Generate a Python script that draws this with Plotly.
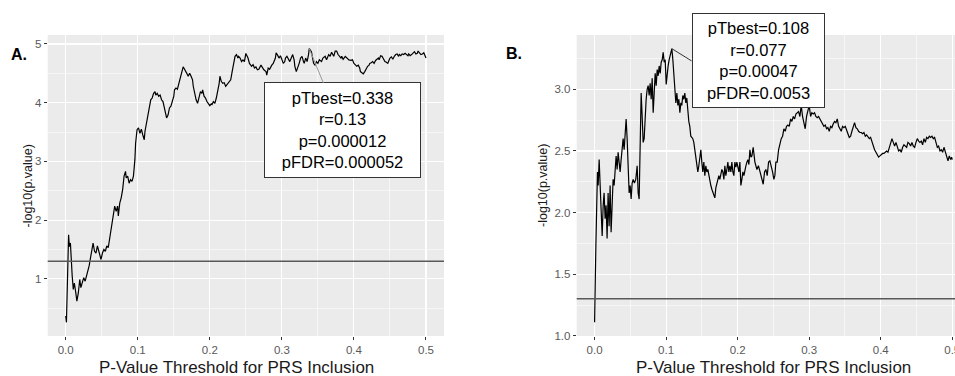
import numpy as np
import plotly.graph_objects as go

# ---------------- data ----------------
A_x = [0.000, 0.001, 0.004, 0.005, 0.0065, 0.0075, 0.009, 0.0105, 0.012, 0.014,
       0.0155, 0.0175, 0.0195, 0.021, 0.023, 0.025, 0.027, 0.029, 0.031, 0.0325,
       0.034, 0.036, 0.038, 0.040, 0.042, 0.044, 0.0455, 0.047, 0.049, 0.051,
       0.053, 0.055, 0.057, 0.059, 0.060, 0.062, 0.064, 0.066, 0.068, 0.070,
       0.072, 0.073, 0.075, 0.077, 0.079, 0.081, 0.083, 0.084, 0.086, 0.088,
       0.090, 0.092, 0.094, 0.096, 0.097, 0.099, 0.101, 0.103, 0.105, 0.107,
       0.109, 0.110, 0.112, 0.114, 0.116, 0.118, 0.120, 0.122, 0.124, 0.125,
       0.127, 0.129, 0.131, 0.133, 0.135, 0.137, 0.138, 0.140, 0.142, 0.144,
       0.146, 0.148, 0.150, 0.151, 0.153, 0.155, 0.157, 0.159, 0.161, 0.163,
       0.164, 0.166, 0.168, 0.170, 0.172, 0.174, 0.176, 0.177, 0.179, 0.181,
       0.183, 0.185, 0.187, 0.189, 0.190, 0.192, 0.194, 0.196, 0.198, 0.200,
       0.202, 0.203, 0.205, 0.207, 0.209, 0.211, 0.213, 0.214, 0.216, 0.218,
       0.220, 0.222, 0.224, 0.226, 0.227, 0.229, 0.231, 0.233, 0.235, 0.237,
       0.239, 0.240, 0.242, 0.244, 0.246, 0.248, 0.250, 0.253, 0.255, 0.258,
       0.260, 0.262, 0.264, 0.266, 0.268, 0.271, 0.273, 0.275, 0.278, 0.279,
       0.281, 0.283, 0.286, 0.288, 0.291, 0.292, 0.294, 0.296, 0.298, 0.300,
       0.302, 0.304, 0.305, 0.307, 0.309, 0.311, 0.313, 0.315, 0.317, 0.318,
       0.320, 0.322, 0.324, 0.326, 0.328, 0.330, 0.331, 0.333, 0.335, 0.337,
       0.338, 0.341, 0.343, 0.344, 0.346, 0.348, 0.350, 0.352, 0.355, 0.357,
       0.360, 0.362, 0.365, 0.367, 0.369, 0.370, 0.372, 0.374, 0.376, 0.378,
       0.380, 0.382, 0.383, 0.385, 0.388, 0.391, 0.393, 0.396, 0.398, 0.400,
       0.402, 0.404, 0.406, 0.408, 0.409, 0.411, 0.413, 0.415, 0.417, 0.419,
       0.421, 0.422, 0.424, 0.426, 0.428, 0.430, 0.432, 0.434, 0.435, 0.437,
       0.439, 0.441, 0.443, 0.445, 0.447, 0.449, 0.450, 0.452, 0.454, 0.456,
       0.458, 0.460, 0.462, 0.463, 0.465, 0.467, 0.469, 0.471, 0.473, 0.475,
       0.476, 0.478, 0.480, 0.482, 0.484, 0.486, 0.488, 0.489, 0.491, 0.493,
       0.495, 0.497, 0.499, 0.500]
A_y = [0.37, 0.26, 1.75, 1.55, 1.61, 1.33, 1.05, 0.82, 0.93, 0.76,
       0.62, 0.76, 0.99, 0.85, 0.93, 1.02, 0.96, 1.05, 1.16, 1.22,
       1.33, 1.50, 1.61, 1.47, 1.44, 1.56, 1.50, 1.44, 1.33, 1.44,
       1.50, 1.47, 1.56, 1.53, 1.61, 1.75, 1.95, 2.12, 2.24, 2.15,
       2.24, 2.07, 2.29, 2.38, 2.52, 2.75, 2.83, 2.72, 2.75, 2.63,
       2.69, 2.66, 2.75, 3.03, 3.31, 3.54, 3.57, 3.48, 3.55, 3.45,
       3.37, 3.51, 3.65, 3.74, 3.88, 4.05, 4.08, 4.16, 4.19, 4.13,
       4.16, 4.11, 4.13, 4.05, 4.02, 3.91, 3.82, 3.74, 3.79, 3.91,
       3.94, 4.02, 4.11, 4.22, 4.25, 4.23, 4.33, 4.45, 4.53, 4.61,
       4.59, 4.53, 4.50, 4.45, 4.50, 4.45, 4.39, 4.28, 4.16, 4.05,
       3.99, 4.08, 4.19, 4.16, 4.22, 4.11, 4.08, 4.02, 3.99, 3.95,
       3.98, 3.97, 4.02, 3.99, 4.08, 4.19, 4.33, 4.45, 4.36, 4.33,
       4.34, 4.28, 4.31, 4.33, 4.36, 4.39, 4.53, 4.70, 4.79, 4.82,
       4.76, 4.79, 4.76, 4.70, 4.73, 4.70, 4.84, 4.76, 4.67, 4.62,
       4.65, 4.59, 4.61, 4.56, 4.57, 4.64, 4.59, 4.56, 4.53, 4.47,
       4.59, 4.57, 4.64, 4.67, 4.76, 4.85, 4.81, 4.76, 4.80, 4.73,
       4.67, 4.70, 4.76, 4.79, 4.73, 4.70, 4.76, 4.82, 4.73, 4.62,
       4.53, 4.59, 4.67, 4.76, 4.79, 4.70, 4.67, 4.76, 4.70, 4.82,
       4.92, 4.87, 4.76, 4.67, 4.64, 4.70, 4.67, 4.73, 4.70, 4.76,
       4.79, 4.73, 4.82, 4.79, 4.86, 4.84, 4.79, 4.88, 4.88, 4.82,
       4.79, 4.76, 4.79, 4.74, 4.79, 4.76, 4.73, 4.72, 4.73, 4.67,
       4.64, 4.62, 4.64, 4.59, 4.53, 4.51, 4.49, 4.53, 4.59, 4.62,
       4.64, 4.67, 4.68, 4.70, 4.67, 4.72, 4.74, 4.76, 4.73, 4.80,
       4.79, 4.73, 4.70, 4.69, 4.67, 4.73, 4.76, 4.78, 4.74, 4.79,
       4.82, 4.83, 4.79, 4.82, 4.80, 4.83, 4.82, 4.84, 4.82, 4.80,
       4.83, 4.80, 4.82, 4.84, 4.87, 4.83, 4.84, 4.88, 4.85, 4.82,
       4.83, 4.85, 4.79, 4.76]

B_x = [0.000, 0.0008, 0.0018, 0.003, 0.004, 0.005, 0.0064, 0.0078, 0.0092, 0.0106,
       0.012, 0.0133, 0.0147, 0.0161, 0.0175, 0.0189, 0.0203, 0.0217, 0.0231, 0.0245,
       0.0259, 0.0273, 0.0287, 0.0301, 0.0315, 0.0329, 0.0343, 0.0357, 0.0371, 0.0385,
       0.0399, 0.0413, 0.0427, 0.0441, 0.0455, 0.0469, 0.0483, 0.0497, 0.0511, 0.0525,
       0.0539, 0.0557, 0.0576, 0.0595, 0.0609, 0.0623, 0.0637, 0.0651, 0.0665, 0.0679,
       0.0693, 0.0707, 0.0721, 0.0735, 0.0749, 0.0763, 0.0777, 0.0791, 0.0805, 0.0819,
       0.0833, 0.0847, 0.0861, 0.0875, 0.0889, 0.0903, 0.0917, 0.0931, 0.0945, 0.0959,
       0.0973, 0.0987, 0.1001, 0.1014, 0.1028, 0.1042, 0.1056, 0.1080, 0.1094, 0.1108,
       0.1122, 0.1136, 0.1150, 0.1164, 0.1178, 0.1192, 0.1206, 0.1219, 0.1233, 0.1247,
       0.1261, 0.1275, 0.1289, 0.1303, 0.1317, 0.1331, 0.1345, 0.1359, 0.1373, 0.1387,
       0.1401, 0.1415, 0.1429, 0.1443, 0.1457, 0.1471, 0.1485, 0.1499, 0.1513, 0.1527,
       0.1541, 0.1555, 0.1569, 0.1583, 0.1597, 0.1611, 0.1625, 0.1639, 0.1653, 0.1667,
       0.1681, 0.1695, 0.1709, 0.1723, 0.1737, 0.1751, 0.1765, 0.1779, 0.1793, 0.1807,
       0.1821, 0.1835, 0.1849, 0.1863, 0.1877, 0.1891, 0.1905, 0.1919, 0.1933, 0.1947,
       0.1961, 0.1975, 0.1989, 0.2003, 0.2017, 0.2031, 0.2045, 0.2059, 0.2073, 0.2087,
       0.2101, 0.2115, 0.2129, 0.2143, 0.2157, 0.2171, 0.2185, 0.2199, 0.2217, 0.2241,
       0.2269, 0.2290, 0.2313, 0.2336, 0.2357, 0.2376, 0.2394, 0.2413, 0.2432, 0.2450,
       0.2469, 0.2488, 0.2506, 0.2520, 0.2534, 0.2553, 0.2572, 0.2590, 0.2609, 0.2628,
       0.2646, 0.2665, 0.2683, 0.2702, 0.2721, 0.2740, 0.2758, 0.2777, 0.2796, 0.2814,
       0.2833, 0.2851, 0.2870, 0.2888, 0.2907, 0.2926, 0.2944, 0.2963, 0.2982, 0.3000,
       0.3019, 0.3037, 0.3056, 0.3075, 0.3093, 0.3112, 0.3131, 0.3149, 0.3168, 0.3187,
       0.3205, 0.3224, 0.3243, 0.3261, 0.3280, 0.3299, 0.3317, 0.3336, 0.3355, 0.3373,
       0.3392, 0.3411, 0.3429, 0.3448, 0.3466, 0.3485, 0.3504, 0.3523, 0.3541, 0.3560,
       0.3579, 0.3597, 0.3616, 0.3634, 0.3653, 0.3672, 0.3690, 0.3709, 0.3728, 0.3746,
       0.3765, 0.3784, 0.3802, 0.3821, 0.3840, 0.3858, 0.3877, 0.3896, 0.3914, 0.3933,
       0.3952, 0.3970, 0.3989, 0.4007, 0.4026, 0.4045, 0.4063, 0.4082, 0.4101, 0.4119,
       0.4138, 0.4157, 0.4175, 0.4194, 0.4213, 0.4231, 0.4250, 0.4269, 0.4287, 0.4306,
       0.4325, 0.4343, 0.4362, 0.4380, 0.4399, 0.4418, 0.4436, 0.4455, 0.4474, 0.4492,
       0.4511, 0.4530, 0.4548, 0.4567, 0.4585, 0.4604, 0.4623, 0.4641, 0.4660, 0.4679,
       0.4697, 0.4716, 0.4735, 0.4753, 0.4772, 0.4791, 0.4809, 0.4828, 0.4847, 0.4865,
       0.4884, 0.4902, 0.4921, 0.4940, 0.4958, 0.4977, 0.4990, 0.5000]
B_y = [1.11, 1.70, 1.73, 2.06, 2.33, 2.22, 2.43, 2.22, 1.97, 1.81,
       2.06, 2.16, 1.95, 2.06, 1.79, 2.16, 1.89, 2.22, 1.84, 2.16,
       2.27, 2.22, 2.38, 2.46, 2.35, 2.49, 2.41, 2.33, 2.43, 2.54,
       2.60, 2.51, 2.65, 2.76, 2.60, 2.27, 2.16, 2.22, 2.11, 2.24,
       2.27, 2.24, 2.27, 2.38, 2.16, 2.11, 2.49, 2.97, 2.78, 2.57,
       2.60, 2.78, 2.92, 3.00, 3.03, 2.95, 3.05, 2.92, 3.09, 2.81,
       3.03, 3.13, 3.03, 3.16, 3.11, 3.19, 3.13, 3.22, 3.24, 3.30,
       3.22, 3.24, 3.04, 3.13, 3.19, 3.24, 3.27, 3.33, 3.24, 3.13,
       3.00, 2.89, 2.97, 2.87, 2.92, 2.81, 2.89, 2.87, 2.95, 2.92,
       2.97, 2.89, 2.93, 2.81, 2.74, 2.70, 2.62, 2.61, 2.60, 2.57,
       2.51, 2.49, 2.41, 2.33, 2.38, 2.43, 2.51, 2.41, 2.33, 2.41,
       2.30, 2.38, 2.33, 2.35, 2.30, 2.24, 2.22, 2.19, 2.16, 2.15,
       2.12, 2.20, 2.23, 2.26, 2.30, 2.27, 2.31, 2.35, 2.33, 2.27,
       2.38, 2.30, 2.35, 2.41, 2.33, 2.38, 2.33, 2.41, 2.33, 2.30,
       2.41, 2.37, 2.41, 2.38, 2.33, 2.41, 2.22, 2.27, 2.33, 2.30,
       2.35, 2.38, 2.41, 2.43, 2.39, 2.51, 2.45, 2.46, 2.53, 2.41,
       2.35, 2.38, 2.33, 2.27, 2.23, 2.33, 2.35, 2.30, 2.41, 2.42,
       2.38, 2.33, 2.27, 2.30, 2.41, 2.41, 2.51, 2.57, 2.60, 2.62,
       2.68, 2.66, 2.70, 2.71, 2.70, 2.76, 2.74, 2.78, 2.76, 2.80,
       2.81, 2.82, 2.78, 2.87, 2.78, 2.74, 2.68, 2.78, 2.84, 2.87,
       2.78, 2.81, 2.80, 2.81, 2.78, 2.77, 2.78, 2.76, 2.73, 2.72,
       2.70, 2.71, 2.68, 2.69, 2.66, 2.70, 2.69, 2.72, 2.74, 2.73,
       2.76, 2.70, 2.68, 2.66, 2.70, 2.69, 2.70, 2.66, 2.64, 2.61,
       2.62, 2.66, 2.70, 2.73, 2.69, 2.68, 2.66, 2.65, 2.65, 2.64,
       2.65, 2.62, 2.63, 2.61, 2.60, 2.61, 2.57, 2.54, 2.51, 2.49,
       2.47, 2.45, 2.46, 2.47, 2.48, 2.48, 2.49, 2.50, 2.49, 2.53,
       2.58, 2.60, 2.57, 2.54, 2.57, 2.53, 2.50, 2.51, 2.49, 2.53,
       2.55, 2.54, 2.53, 2.57, 2.56, 2.54, 2.57, 2.54, 2.53, 2.57,
       2.60, 2.58, 2.57, 2.58, 2.55, 2.60, 2.57, 2.61, 2.60, 2.62,
       2.61, 2.62, 2.60, 2.61, 2.57, 2.53, 2.54, 2.50, 2.51, 2.49,
       2.53, 2.49, 2.45, 2.42, 2.46, 2.43, 2.45, 2.43]

# best-threshold labels
A_best = {"pTbest": 0.338, "r": "0.13", "p": "0.000012", "pFDR": "0.000052", "y": 4.92}
B_best = {"pTbest": 0.108, "r": "0.077", "p": "0.00047", "pFDR": "0.0053", "y": 3.33}

SIG_LEVEL = -np.log10(0.05)

x_ticks = [0.0, 0.1, 0.2, 0.3, 0.4, 0.5]
A_yticks = [1, 2, 3, 4, 5]
B_yticks = [1.0, 1.5, 2.0, 2.5, 3.0]

X_TITLE = "P-Value Threshold for PRS Inclusion"
Y_TITLE = "-log10(p.value)"

# ---------------- figure ----------------
W, H = 955, 376
FONT = "Liberation Sans, Arial, Helvetica, sans-serif"


def px_x(v):
    return v / W


def px_y(v):
    return 1 - v / H


def expand(lo, hi, f=0.05):
    d = (hi - lo) * f
    return [lo - d, hi + d]


fig = go.Figure()
fig.add_trace(go.Scatter(x=A_x, y=A_y, mode="lines", line=dict(color="black", width=1.2),
                         xaxis="x", yaxis="y", showlegend=False, hoverinfo="skip"))
fig.add_trace(go.Scatter(x=B_x, y=B_y, mode="lines", line=dict(color="black", width=1.2),
                         xaxis="x2", yaxis="y2", showlegend=False, hoverinfo="skip"))

for xr, yr in (("x", "y"), ("x2", "y2")):
    fig.add_shape(type="line", xref=f"{xr} domain", yref=yr, x0=0, x1=1,
                  y0=SIG_LEVEL, y1=SIG_LEVEL, line=dict(color="#595959", width=1.5),
                  layer="above")

tickfont = dict(family=FONT, size=11.5, color="#595959")
base = dict(showgrid=True, gridcolor="white", gridwidth=1.1, zeroline=False,
            showline=False, ticks="outside", ticklen=3, tickwidth=1,
            tickcolor="#333333", tickfont=tickfont, fixedrange=True, automargin=False)

y_dom = [px_y(336), px_y(35)]
xr_A = expand(0, 0.5, 0.05)

fig.update_layout(
    width=W, height=H, autosize=False,
    margin=dict(l=0, r=0, t=0, b=0, pad=0),
    paper_bgcolor="white", plot_bgcolor="#EBEBEB",
    showlegend=False,
    xaxis=dict(base, domain=[px_x(47.7), px_x(444)], range=xr_A, anchor="y",
               tickvals=x_ticks, ticktext=[f"{v:.1f}" for v in x_ticks],
               minor=dict(dtick=0.05, tick0=0, showgrid=True, gridcolor="white", gridwidth=0.55)),
    yaxis=dict(base, domain=y_dom, range=expand(min(A_y), max(A_y)), anchor="x",
               tickvals=A_yticks, ticktext=[str(v) for v in A_yticks],
               minor=dict(dtick=0.5, tick0=0, showgrid=True, gridcolor="white", gridwidth=0.55)),
    xaxis2=dict(base, domain=[px_x(576.7), 1.0], range=[xr_A[0], 0.5038], anchor="y2",
                tickvals=x_ticks, ticktext=[f"{v:.1f}" for v in x_ticks],
                ticklabeloverflow="allow",
                minor=dict(dtick=0.05, tick0=0, showgrid=True, gridcolor="white", gridwidth=0.55)),
    yaxis2=dict(base, domain=y_dom, range=expand(min(B_y), max(B_y)), anchor="x2",
                tickvals=B_yticks, ticktext=[f"{v:.1f}" for v in B_yticks],
                minor=dict(dtick=0.25, tick0=0, showgrid=True, gridcolor="white", gridwidth=0.55)),
)

ann = []
common = dict(xref="paper", yref="paper", showarrow=False, xanchor="center", yanchor="middle")
# panel letters
ann.append(dict(common, text="<b>A.</b>", x=px_x(18.8), y=px_y(54.5),
                font=dict(family=FONT, size=16, color="black")))
ann.append(dict(common, text="<b>B.</b>", x=px_x(514), y=px_y(53),
                font=dict(family=FONT, size=16, color="black")))
# axis titles
for cx in (236, 773):
    ann.append(dict(common, text=X_TITLE, x=px_x(cx), y=px_y(367),
                    font=dict(family=FONT, size=17, color="#1a1a1a")))
for cx in (27.5, 543):
    ann.append(dict(common, text=Y_TITLE, x=px_x(cx), y=px_y(186), textangle=-90,
                    font=dict(family=FONT, size=12.5, color="#1a1a1a")))


def label_text(d):
    return (f"pTbest={d['pTbest']}<br>r={d['r']}<br>p={d['p']}<br>pFDR={d['pFDR']}")


ann.append(dict(text=label_text(A_best), x=A_best["pTbest"], y=A_best["y"], xref="x", yref="y",
                showarrow=True, arrowhead=0, arrowwidth=1, arrowcolor="#9a9a9a", standoff=0,
                axref="pixel", ayref="pixel", ax=33.6, ay=81.7,
                bgcolor="white", bordercolor="#333333", borderwidth=1, borderpad=0,
                width=155, height=94, align="center", valign="middle",
                font=dict(family=FONT, size=16.5, color="black")))
ann.append(dict(text=label_text(B_best), x=B_best["pTbest"], y=B_best["y"], xref="x2", yref="y2",
                showarrow=True, arrowhead=0, arrowwidth=1, arrowcolor="#333333", standoff=0,
                axref="pixel", ayref="pixel", ax=19.7, ay=12.2,
                xanchor="left", yanchor="middle",
                bgcolor="white", bordercolor="#333333", borderwidth=1, borderpad=0,
                width=131, height=93, align="center", valign="middle",
                font=dict(family=FONT, size=16.5, color="black")))

fig.update_layout(annotations=ann)

fig.write_html(
    "out.html",
    config={"displayModeBar": False, "staticPlot": True},
    post_script="document.body.style.margin='0';document.documentElement.style.overflow='hidden';",
)
